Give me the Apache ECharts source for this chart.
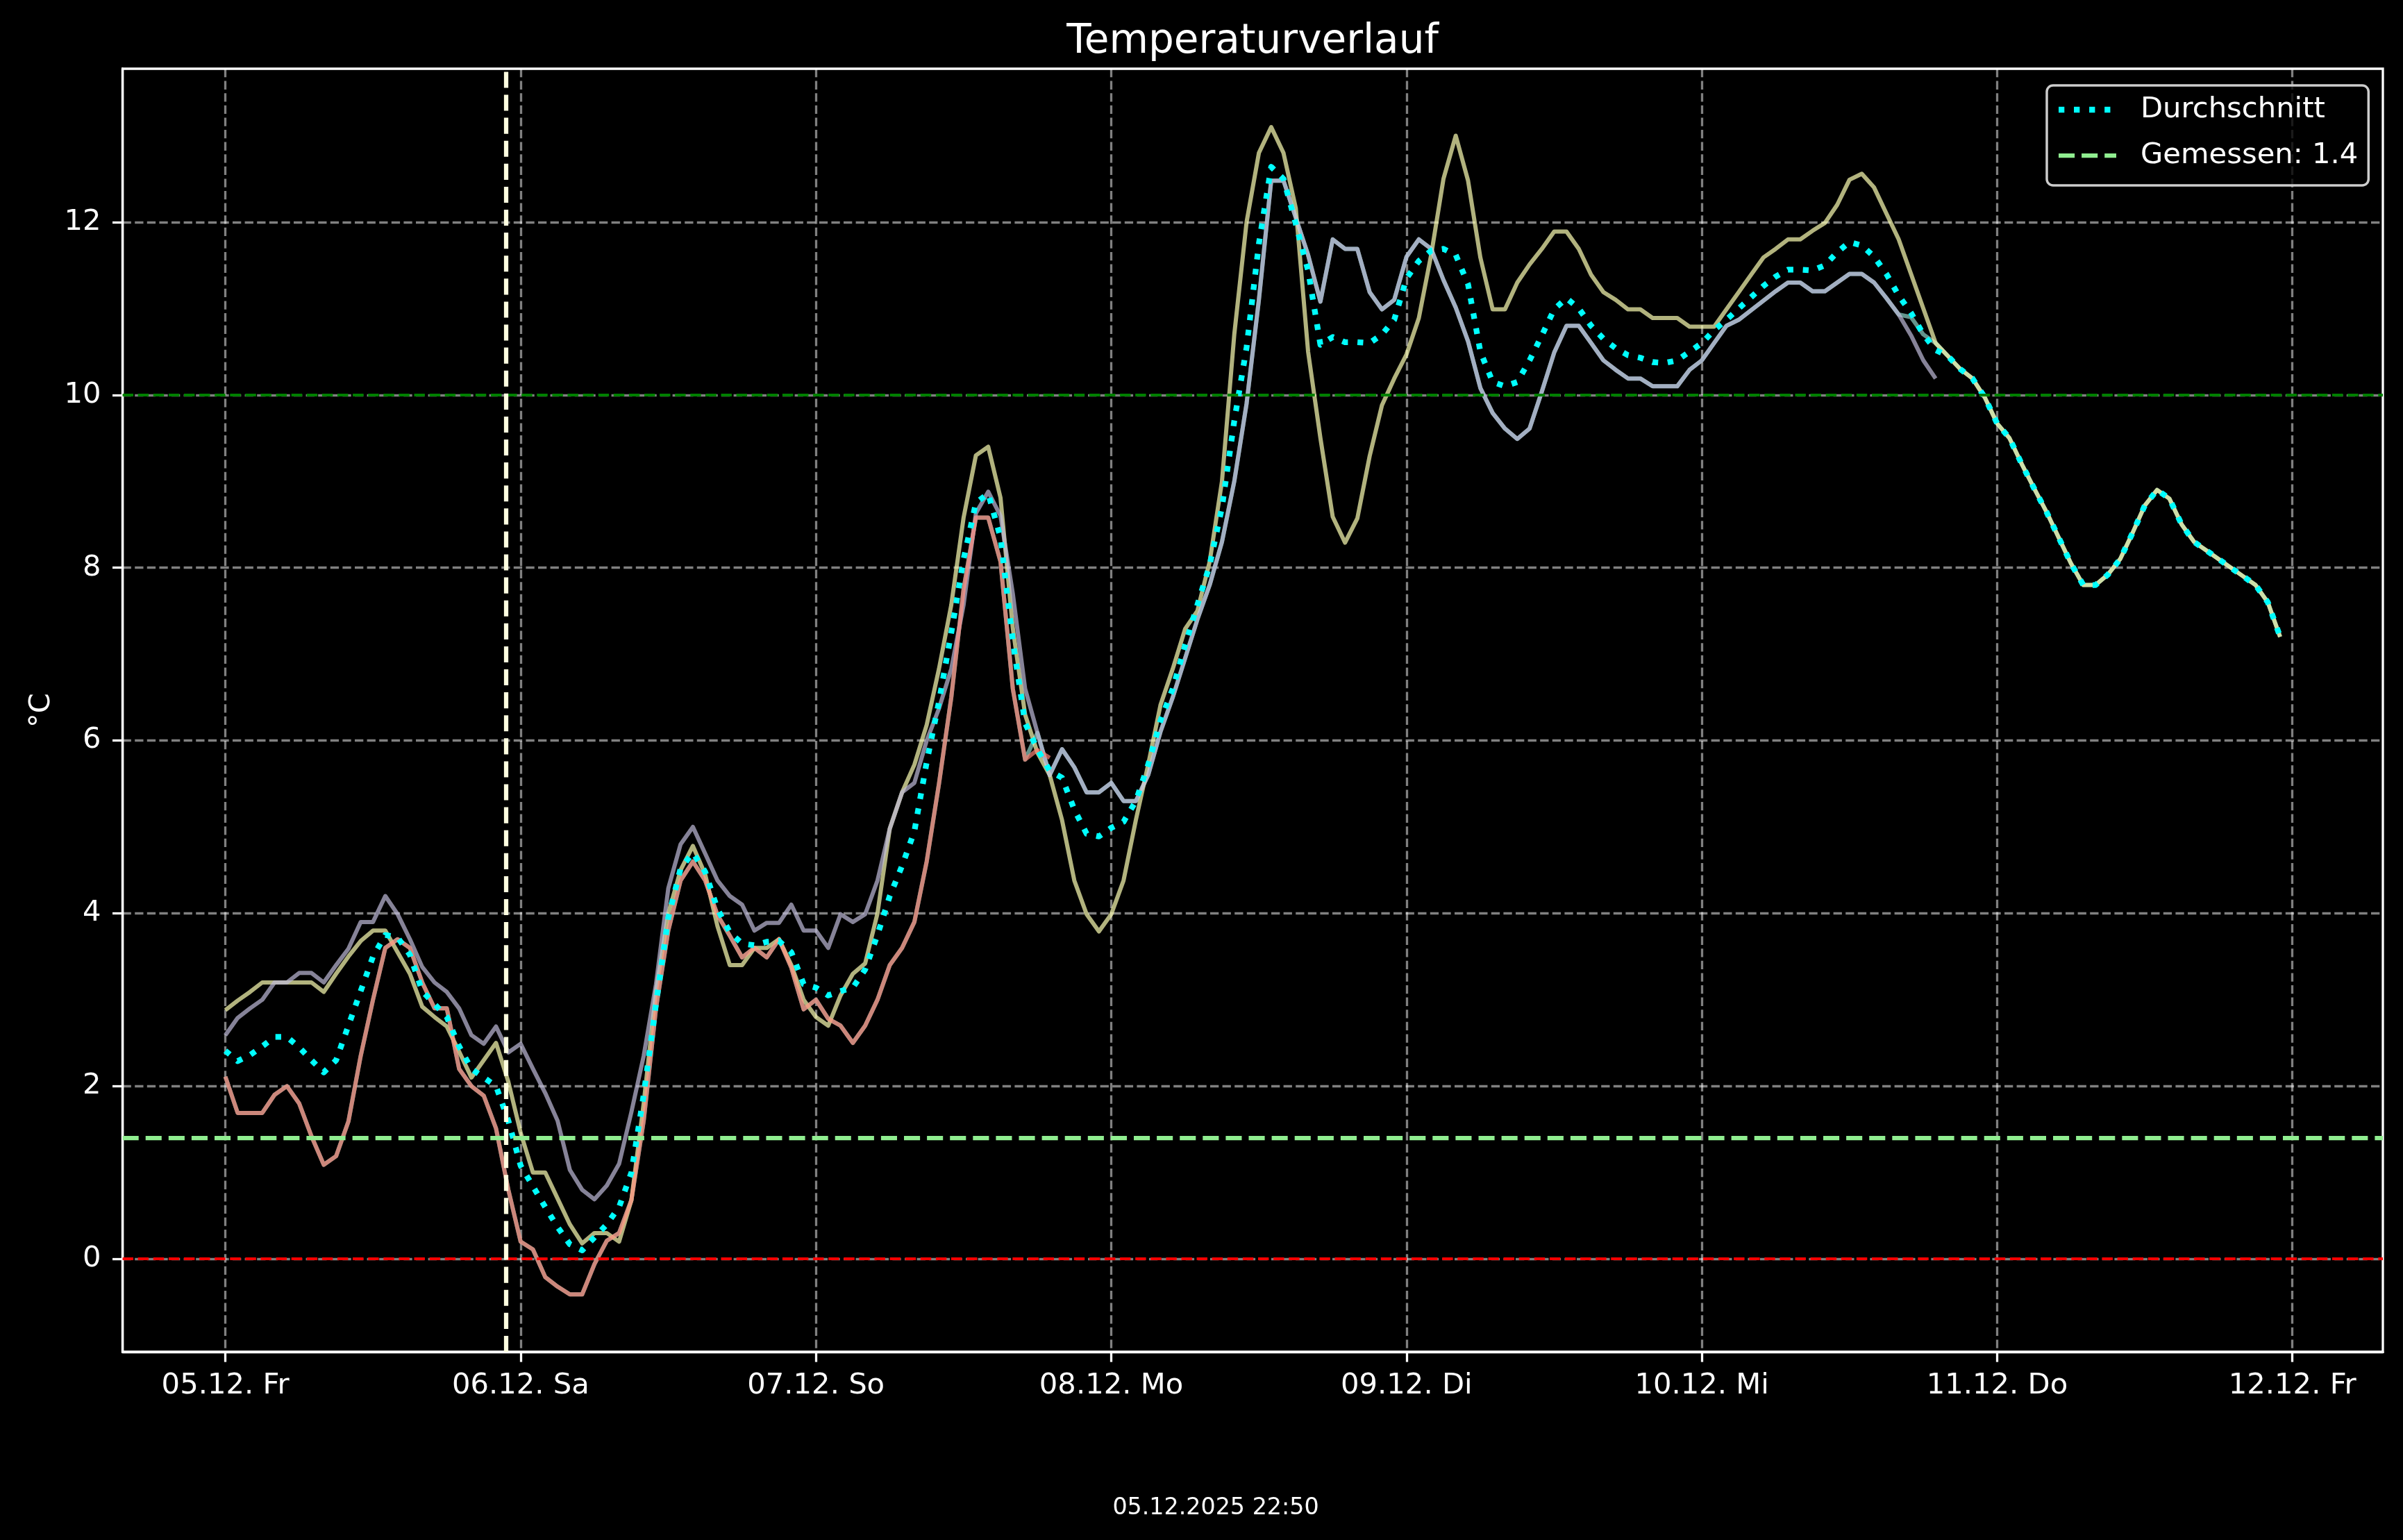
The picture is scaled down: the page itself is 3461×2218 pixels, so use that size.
<!DOCTYPE html>
<html>
<head>
<meta charset="utf-8">
<script src="https://cdn.jsdelivr.net/npm/echarts@6/dist/echarts.min.js"></script>
<style>
html,body{margin:0;padding:0;background:#000;}
#chart{width:3461px;height:2218px;}
</style>
</head>
<body>
<div id="chart"></div>
<script>
// ---- data (hours since 05.12. 00:00) ----
const dayTicks = [0, 24, 48, 72, 96, 120, 144, 168];
const dayLabels = ['05.12. Fr', '06.12. Sa', '07.12. So', '08.12. Mo', '09.12. Di', '10.12. Mi', '11.12. Do', '12.12. Fr'];
const yTicks = [0, 2, 4, 6, 8, 10, 12];
const measured = 1.4;
const nowHour = 22 + 50 / 60;
const freezeLine = 0;
const warmLine = 10;

// model C0 (teal) – starts at hour 0
const tealVals = [
  2.11,1.69,1.69,1.69,1.9,2.0,1.8,1.42,1.09,1.19,
  1.59,2.35,3.0,3.6,3.7,3.6,3.2,2.9,2.9,2.2,
  2.0,1.89,1.51,0.8,0.2,0.11,-0.21,-0.32,-0.41,-0.41,
  -0.06,0.21,0.3,0.68,1.6,2.9,3.8,4.38,4.6,4.38,
  3.98,3.74,3.49,3.6,3.49,3.7,3.37,2.89,3.0,2.78,
  2.7,2.5,2.7,3.0,3.4,3.6,3.9,4.6,5.5,6.5,
  7.75,8.58,8.58,8.07,6.6,5.78,
  6.09,5.6,5.9,5.69,
  5.4,5.4,5.51,5.3,5.3,5.6,6.1,6.5,6.95,7.4,
  7.8,8.3,9.0,9.9,11.1,12.48,12.48,12.05,11.62,11.08,
  11.8,11.69,11.69,11.19,10.99,11.1,11.6,11.8,11.69,11.33,
  11.01,10.62,10.08,9.79,9.61,9.49,9.61,10.04,10.49,10.8,
  10.8,10.6,10.4,10.29,10.19,10.19,10.1,10.1,10.1,10.29,
  10.4,10.6,10.8,10.87,10.98,11.09,11.2,11.3,11.3,11.2,
  11.2,11.3,11.4,11.4,11.3,11.12,10.93,
  10.9,10.7,10.6,
  10.45,10.3,10.19,9.97,9.67,9.5,9.2,8.92,8.65,8.35,
  8.05,7.8,7.8,7.92,8.1,8.4,8.72,8.9,8.8,8.5,
  8.3,8.2,8.1,8.0,7.9,7.8,7.6,7.2
];

// model C1 (yellow / olive) – starts at hour 0
const oliveVals = [
  2.88,2.99,3.09,3.2,3.2,3.2,3.2,3.2,3.09,3.3,
  3.5,3.68,3.8,3.8,3.55,3.3,2.92,2.8,2.69,2.4,
  2.1,2.3,2.5,2.05,1.46,1.0,1.0,0.7,0.4,0.18,
  0.3,0.3,0.2,0.68,1.8,3.1,4.0,4.5,4.78,4.45,
  3.85,3.4,3.4,3.6,3.6,3.7,3.4,3.0,2.8,2.7,
  3.05,3.3,3.42,4.0,4.98,5.4,5.72,6.18,6.83,7.57,
  8.58,9.3,9.4,8.81,7.3,6.3,5.86,5.6,5.08,4.38,
  3.99,3.79,3.99,4.38,5.08,5.72,6.41,6.83,7.29,7.5,
  8.07,9.0,10.7,12.0,12.8,13.1,12.8,12.16,10.5,9.5,
  8.59,8.29,8.57,9.29,9.88,10.19,10.47,10.89,11.62,12.5,
  13.0,12.48,11.59,10.99,10.99,11.3,11.51,11.69,11.89,11.89,
  11.69,11.39,11.19,11.1,10.99,10.99,10.89,10.89,10.89,10.79,
  10.79,10.79,10.99,11.19,11.39,11.59,11.69,11.8,11.8,11.9,
  11.99,12.2,12.49,12.56,12.4,12.1,11.8,11.4,11.0,10.6,
  10.45,10.3,10.19,9.97,9.67,9.5,9.2,8.92,8.65,8.35,
  8.05,7.8,7.8,7.92,8.1,8.4,8.72,8.9,8.8,8.5,
  8.3,8.2,8.1,8.0,7.9,7.8,7.6,7.2
];

// model C2 (lavender) – starts at hour 0, ends 10.12. 19:00
const lavenderVals = [
  2.59,2.79,2.9,3.0,3.2,3.2,3.31,3.31,3.2,3.4,
  3.59,3.9,3.9,4.2,3.99,3.7,3.38,3.2,3.09,2.9,
  2.59,2.49,2.69,2.39,2.49,2.2,1.92,1.6,1.03,0.8,
  0.69,0.85,1.1,1.7,2.35,3.18,4.29,4.8,5.0,4.69,
  4.38,4.2,4.1,3.8,3.89,3.89,4.1,3.8,3.8,3.6,
  3.99,3.9,3.99,4.38,4.98,5.4,5.51,6.0,6.37,6.83,
  7.57,8.63,8.88,8.6,7.7,6.6,6.09,5.6,5.9,5.69,
  5.4,5.4,5.51,5.3,5.3,5.6,6.1,6.5,6.95,7.4,
  7.8,8.3,9.0,9.9,11.1,12.48,12.48,12.05,11.62,11.08,
  11.8,11.69,11.69,11.19,10.99,11.1,11.6,11.8,11.69,11.33,
  11.01,10.62,10.08,9.79,9.61,9.49,9.61,10.04,10.49,10.8,
  10.8,10.6,10.4,10.29,10.19,10.19,10.1,10.1,10.1,10.29,
  10.4,10.6,10.8,10.87,10.98,11.09,11.2,11.3,11.3,11.2,
  11.2,11.3,11.4,11.4,11.3,11.12,10.93,10.69,10.4,10.19
];

// model C3 (salmon) – starts at hour 0, ends 07.12. 19:00
const salmonVals = [
  2.11,1.69,1.69,1.69,1.9,2.0,1.8,1.42,1.09,1.19,
  1.59,2.35,3.0,3.6,3.7,3.6,3.2,2.9,2.9,2.2,
  2.0,1.89,1.51,0.8,0.2,0.11,-0.21,-0.32,-0.41,-0.41,
  -0.06,0.21,0.3,0.68,1.6,2.9,3.8,4.38,4.6,4.38,
  3.98,3.74,3.49,3.6,3.49,3.7,3.37,2.89,3.0,2.78,
  2.7,2.5,2.7,3.0,3.4,3.6,3.9,4.6,5.5,6.5,
  7.75,8.58,8.58,8.07,6.6,5.78,5.89,5.8
];

// average (Durchschnitt)
const avgVals = [
  2.41,2.29,2.36,2.46,2.57,2.57,2.45,2.3,2.16,2.3,
  2.7,3.1,3.5,3.75,3.72,3.52,3.1,2.95,2.8,2.46,
  2.2,2.1,2.0,1.6,1.08,0.84,0.6,0.37,0.17,0.1,
  0.25,0.4,0.6,1.0,1.9,2.95,3.95,4.52,4.7,4.48,
  4.05,3.78,3.65,3.63,3.67,3.68,3.55,3.18,3.14,3.05,
  3.1,3.14,3.35,3.75,4.2,4.55,4.95,5.75,6.45,7.25,
  8.1,8.75,8.86,8.35,7.15,6.2,5.9,5.65,5.57,5.2,
  4.92,4.89,4.99,5.06,5.3,5.72,6.23,6.6,7.1,7.57,
  8.03,8.7,9.7,10.55,11.75,12.64,12.5,11.98,11.44,10.58,
  10.67,10.61,10.61,10.6,10.7,10.87,11.35,11.55,11.67,11.69,
  11.62,11.28,10.5,10.15,10.1,10.15,10.4,10.69,10.99,11.12,
  11.0,10.8,10.65,10.54,10.46,10.43,10.38,10.37,10.4,10.5,
  10.6,10.75,10.87,11.0,11.13,11.26,11.37,11.45,11.45,11.44,
  11.5,11.65,11.77,11.73,11.6,11.4,11.15,10.95,10.7,10.52,
  10.45,10.3,10.19,9.97,9.67,9.5,9.2,8.92,8.65,8.35,
  8.05,7.8,7.8,7.92,8.1,8.4,8.72,8.9,8.8,8.5,
  8.3,8.2,8.1,8.0,7.9,7.8,7.6,7.2
];

const tealStart = 0, oliveStart = 0, lavenderStart = 0, salmonStart = 0, avgStart = 0;
const xMin = -8.35, xMax = 175.35;
const yMin = -1.075, yMax = 13.775;

// ---- helpers ----
function toPts(start, vals) { return vals.map((v, i) => [start + i, v]); }

const FONT = 'DejaVu Sans';
const TICK_FS = 41.7;

function modelSeries(name, color, start, vals) {
  return {
    name: name, type: 'line', data: toPts(start, vals),
    symbol: 'none', showSymbol: false, silent: true, z: 2,
    color: color,
    itemStyle: { color: color },
    lineStyle: { color: color, width: 6, opacity: 0.7, join: 'round', cap: 'butt' }
  };
}

const dotsIcon = 'path://M0,0h8.3v8.3h-8.3z M22.05,0h8.3v8.3h-8.3z M44.1,0h8.3v8.3h-8.3z M66.15,0h8.3v8.3h-8.3z M82.95,4.1h0.05v0.05h-0.05z';
const dashIcon = 'path://M0,0h23.1v6.25h-23.1z M33.1,0h23.1v6.25h-23.1z M66.2,0h16.8v6.25h-16.8z';

const chart = echarts.init(document.getElementById('chart'), null, { renderer: 'canvas', width: 3461, height: 2218 });

const option = {
  backgroundColor: '#000000',
  animation: false,
  textStyle: { fontFamily: FONT },
  title: [
    {
      text: 'Temperaturverlauf', left: 1804, top: 32, padding: 0, textAlign: 'center',
      textStyle: { color: '#ffffff', fontSize: 58, fontWeight: 'normal', fontFamily: FONT, lineHeight: 58 }
    },
    {
      text: '05.12.2025 22:50', left: 1751, top: 2155.5, padding: 0, textAlign: 'center',
      textStyle: { color: '#ffffff', fontSize: 33.3, fontWeight: 'normal', fontFamily: FONT, lineHeight: 33.3 }
    }
  ],
  grid: {
    left: 176.6, right: 29, top: 99, bottom: 271,
    show: true, borderColor: '#ffffff', borderWidth: 3.3, backgroundColor: '#000000',
    containLabel: false
  },
  xAxis: {
    type: 'value', min: xMin, max: xMax,
    axisLine: { show: true, onZero: false, lineStyle: { color: '#ffffff', width: 3.3 } },
    axisTick: { show: true, customValues: dayTicks, length: 14.6, lineStyle: { color: '#ffffff', width: 3.3 } },
    axisLabel: {
      customValues: dayTicks, color: '#ffffff', fontSize: TICK_FS, fontFamily: FONT, lineHeight: TICK_FS, margin: 28,
      formatter: function (v) { return dayLabels[dayTicks.indexOf(Math.round(v))] || ''; }
    },
    splitLine: { show: true, lineStyle: { color: 'rgba(255,255,255,0.5)', width: 3.3, type: [12.3, 5.3] } }
  },
  yAxis: {
    type: 'value', min: yMin, max: yMax,
    name: '°C', nameLocation: 'middle', nameRotate: 90, nameGap: 96,
    nameTextStyle: { color: '#ffffff', fontSize: TICK_FS, fontFamily: FONT, lineHeight: TICK_FS },
    axisLine: { show: true, onZero: false, lineStyle: { color: '#ffffff', width: 3.3 } },
    axisTick: { show: true, customValues: yTicks, length: 14.6, lineStyle: { color: '#ffffff', width: 3.3 } },
    axisLabel: {
      customValues: yTicks, color: '#ffffff', fontSize: TICK_FS, fontFamily: FONT, lineHeight: TICK_FS, margin: 31,
      padding: [10, 0, 0, 0],
      formatter: function (v) { return String(Math.round(v)); }
    },
    splitLine: { show: true, lineStyle: { color: 'rgba(255,255,255,0.5)', width: 3.3, type: [12.3, 5.3] } }
  },
  legend: {
    orient: 'vertical', left: 2948, top: 123,
    data: [{ name: 'Durchschnitt', icon: dotsIcon }, { name: 'Gemessen: 1.4', icon: dashIcon }],
    itemWidth: 83, itemHeight: 8.3, itemGap: 16, symbolKeepAspect: true,
    padding: [10, 15, 18, 17],
    backgroundColor: 'rgba(0,0,0,0.8)', borderColor: '#cccccc', borderWidth: 3.5, borderRadius: 9,
    selectedMode: false,
    textStyle: { color: '#ffffff', fontSize: TICK_FS, fontFamily: FONT, lineHeight: 50, padding: [0, 0, 0, 30] }
  },
  series: [
    modelSeries('m0', '#8dd3c7', tealStart, tealVals),
    modelSeries('m1', '#feffb3', oliveStart, oliveVals),
    modelSeries('m2', '#bfbbd9', lavenderStart, lavenderVals),
    modelSeries('m3', '#fa8174', salmonStart, salmonVals),
    {
      name: 'Durchschnitt', type: 'line', data: toPts(avgStart, avgVals),
      symbol: 'none', showSymbol: false, silent: true, z: 3,
      color: '#00ffff', itemStyle: { color: '#00ffff' },
      lineStyle: { color: '#00ffff', width: 8.3, type: [8.3, 13.75], cap: 'butt', join: 'round' }
    },
    {
      name: 'Gemessen: 1.4', type: 'line', data: [],
      symbol: 'none', silent: true,
      color: '#90ee90', itemStyle: { color: '#90ee90' },
      lineStyle: { color: '#90ee90', width: 6.25, type: [23.1, 10] },
      markLine: {
        silent: true, symbol: ['none', 'none'], label: { show: false }, animation: false,
        lineStyle: { color: '#90ee90', width: 6.25, type: [23.1, 10], cap: 'butt' },
        data: [{ yAxis: measured }]
      }
    },
    {
      name: 'refs', type: 'line', data: [], symbol: 'none', silent: true,
      markLine: {
        silent: true, symbol: ['none', 'none'], label: { show: false }, animation: false,
        data: [
          { yAxis: freezeLine, lineStyle: { color: '#ff0000', width: 4.17, type: [15.4, 6.7], cap: 'butt' } },
          { yAxis: warmLine, lineStyle: { color: '#008000', width: 4.17, type: [15.4, 6.7], cap: 'butt' } },
          { xAxis: nowHour, lineStyle: { color: '#ffffe0', width: 6.25, type: [23.1, 10], cap: 'butt' } }
        ]
      }
    }
  ]
};

chart.setOption(option);
</script>
</body>
</html>
